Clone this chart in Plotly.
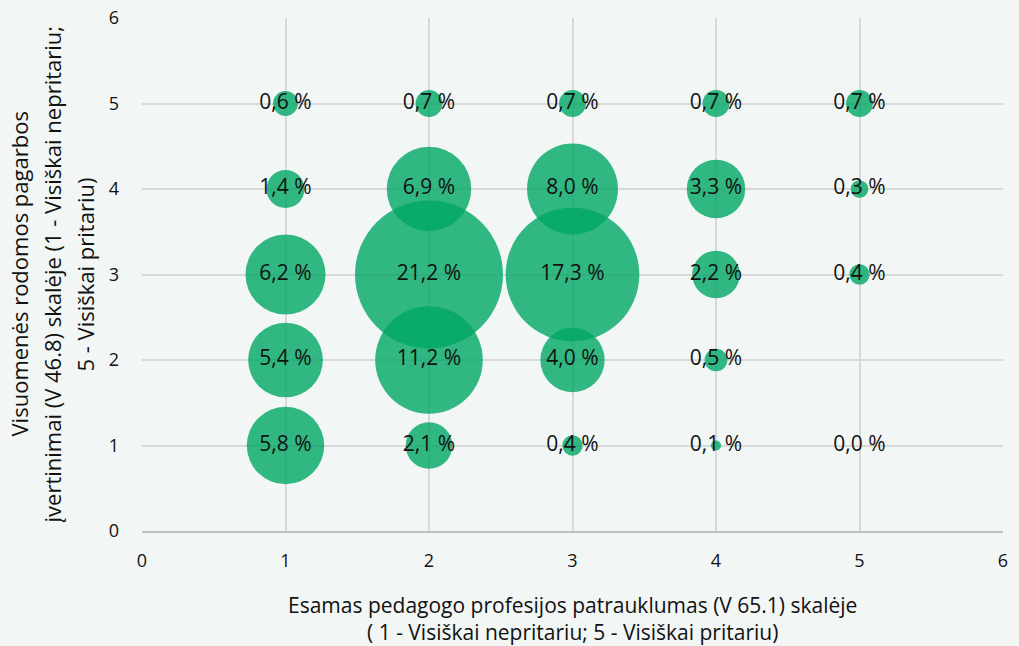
import plotly.graph_objects as go

x_vals = [1, 1, 1, 1, 1, 2, 2, 2, 2, 2, 3, 3, 3, 3, 3, 4, 4, 4, 4, 4, 5, 5, 5, 5]
y_vals = [5, 4, 3, 2, 1, 5, 4, 3, 2, 1, 5, 4, 3, 2, 1, 5, 4, 3, 2, 1, 5, 4, 3, 1]
pct = [0.6, 1.4, 6.2, 5.4, 5.8,
       0.7, 6.9, 21.2, 11.2, 2.1,
       0.7, 8.0, 17.3, 4.0, 0.4,
       0.7, 3.3, 2.2, 0.5, 0.1,
       0.7, 0.3, 0.4, 0.0]
tick_vals = [0, 1, 2, 3, 4, 5, 6]

x_title = ("Esamas pedagogo profesijos patrauklumas (V 65.1) skalėje<br>"
           "( 1 - Visiškai nepritariu; 5 - Visiškai pritariu)")
y_title_lines = ["Visuomenės rodomos pagarbos",
                 "įvertinimai (V 46.8) skalėje (1 - Visiškai nepritariu;",
                 "5 - Visiškai pritariu)"]

labels = [f"{v:.1f}".replace(".", ",") + " %" for v in pct]
max_d = 148
sizeref = 2 * max(pct) / (max_d ** 2)

FONT = "Open Sans"
TXT = "#111111"
fig = go.Figure(go.Scatter(
    x=x_vals, y=y_vals, mode="markers+text",
    text=labels, textposition="middle center",
    textfont=dict(family=FONT, size=21, color=TXT),
    marker=dict(size=pct, sizemode="area", sizeref=sizeref, sizemin=3,
                color="rgb(0,166,100)", opacity=0.8, line=dict(width=0)),
    hoverinfo="skip", showlegend=False,
))

axis_common = dict(range=[0, 6], tickvals=tick_vals, showgrid=True,
                   gridcolor="#D9D9D9", gridwidth=1.5, zeroline=False,
                   tickfont=dict(family=FONT, size=18, color=TXT),
                   automargin=False, fixedrange=True)
fig.update_xaxes(**axis_common, showline=True, linecolor="#BFBFBF", linewidth=2,
                 ticklabelstandoff=12)
fig.update_yaxes(**axis_common, showline=False, ticklabelstandoff=22)

annotations = [dict(text=x_title, xref="paper", yref="paper", x=0.5, y=0,
                    xanchor="center", yanchor="middle", yshift=-87,
                    showarrow=False, font=dict(family=FONT, size=21, color=TXT))]
for i, line in enumerate(y_title_lines):
    annotations.append(dict(text=line, xref="paper", yref="paper", x=0, y=0.5,
                            xanchor="center", yanchor="middle", textangle=-90,
                            xshift=-142 + 18 + 33 * i,
                            showarrow=False, font=dict(family=FONT, size=22, color=TXT)))

fig.update_layout(
    width=1019, height=646,
    margin=dict(l=142, r=16, t=18, b=115),
    paper_bgcolor="#F2F7F6", plot_bgcolor="#F2F7F6",
    annotations=annotations,
)
fig.write_html("out.html", config={"displayModeBar": False},
               post_script="document.body.style.margin='0px';")
